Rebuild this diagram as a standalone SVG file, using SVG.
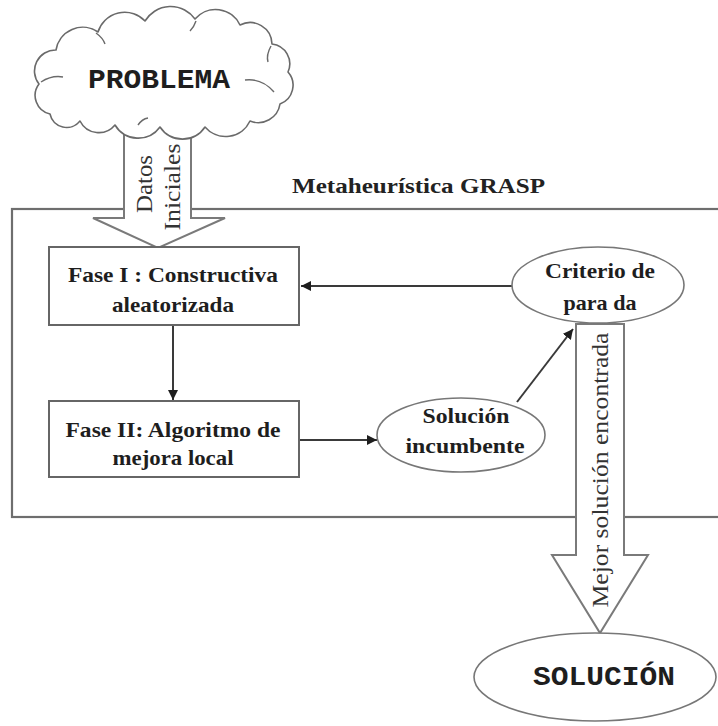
<svg xmlns="http://www.w3.org/2000/svg" width="718" height="726" viewBox="0 0 718 726">
<defs>
<style>
.frame{fill:#fff;stroke:#6e6e6e;stroke-width:2.2}
.box{fill:#fff;stroke:#666;stroke-width:2}
.ell{fill:#fff;stroke:#777;stroke-width:1.6}
.big{fill:#fff;stroke:#7a7a7a;stroke-width:2}
.cloud{fill:#fff;stroke:#6a6a6a;stroke-width:1.6;stroke-linejoin:round}
.hook{fill:none;stroke:#6a6a6a;stroke-width:1.4}
.conn{fill:none;stroke:#3a3a3a;stroke-width:2}
.nt{font-family:"Liberation Serif","Times New Roman",serif;font-weight:bold;font-size:22px;fill:#1e1e1e;text-anchor:middle}
.mono{font-family:"Liberation Mono","Courier New",monospace;font-weight:bold;font-size:27px;fill:#1e1e1e;text-anchor:middle}
.lbl{font-family:"Liberation Serif","Times New Roman",serif;font-size:23px;fill:#333;text-anchor:middle}
.title{font-family:"Liberation Serif","Times New Roman",serif;font-weight:bold;font-size:22px;fill:#222}
</style>
<marker id="ah" viewBox="0 0 10 10" refX="10" refY="5" markerWidth="5" markerHeight="5" orient="auto" markerUnits="strokeWidth">
<path d="M0,0 L10,5 L0,10 z" fill="#1e1e1e"/>
</marker>
</defs>
<rect width="718" height="726" fill="#fff"/>

<g id="grasp-frame">
<rect class="frame" x="12" y="209" width="730" height="308"/>
<text class="title" x="292" y="193" textLength="253" lengthAdjust="spacingAndGlyphs">Metaheurística GRASP</text>
</g>

<g id="datos-iniciales">
<polygon class="big" points="124,120 124,218 93,218 158,248 225,218 191,218 191,120"/>
<text class="lbl" transform="translate(152,184) rotate(-90)" textLength="58" lengthAdjust="spacingAndGlyphs">Datos</text>
<text class="lbl" transform="translate(180,187) rotate(-90)" textLength="87" lengthAdjust="spacingAndGlyphs">Iniciales</text>
</g>

<g id="problema">
<path class="cloud" d="M50,114 A19,19 0 0 1 39,84 A21,21 0 0 1 56,50 A27,27 0 0 1 98,32 A28,28 0 0 1 145,21 A30,30 0 0 1 195,19 A27,27 0 0 1 240,25 A22,22 0 0 1 272,44 A20,20 0 0 1 288,72 A20,20 0 0 1 280,104 A22,22 0 0 1 250,121 A27,27 0 0 1 205,127 A27,27 0 0 1 160,127 A27,27 0 0 1 115,125 A21,21 0 0 1 80,121 A17,17 0 0 1 50,114 Z"/>
<path class="hook" d="M41,82 Q52,75 63,77"/>
<path class="hook" d="M96,33 Q103,38 105,44"/>
<path class="hook" d="M196,21 Q194,27 190,31"/>
<path class="hook" d="M271,46 Q266,55 268,62"/>
<path class="hook" d="M245,80 Q262,78 274,92"/>
<path class="hook" d="M138,125 Q142,119 148,118"/>
<text class="mono" x="159" y="88" textLength="142" lengthAdjust="spacingAndGlyphs">PROBLEMA</text>
</g>

<g id="mejor-solucion">
<polygon class="big" points="576,324 576,555 552,555 600,633 648,555 624,555 624,324"/>
<text class="lbl" transform="translate(608,470) rotate(-90)" textLength="275" lengthAdjust="spacingAndGlyphs">Mejor solución encontrada</text>
</g>

<g id="connectors">
<line class="conn" x1="512" y1="286" x2="301" y2="286" marker-end="url(#ah)"/>
<line class="conn" x1="173" y1="325" x2="173" y2="400" marker-end="url(#ah)"/>
<line class="conn" x1="299" y1="440" x2="377" y2="440" marker-end="url(#ah)"/>
<line class="conn" x1="517" y1="402" x2="573" y2="329" marker-end="url(#ah)"/>
</g>

<g id="fase1">
<rect class="box" x="49" y="247" width="250" height="78"/>
<text class="nt" x="173" y="282" textLength="210" lengthAdjust="spacingAndGlyphs">Fase I : Constructiva</text>
<text class="nt" x="173" y="312" textLength="122" lengthAdjust="spacingAndGlyphs">aleatorizada</text>
</g>

<g id="fase2">
<rect class="box" x="49" y="401" width="250" height="76"/>
<text class="nt" x="173" y="437" textLength="215" lengthAdjust="spacingAndGlyphs">Fase II: Algoritmo de</text>
<text class="nt" x="173" y="465" textLength="121" lengthAdjust="spacingAndGlyphs">mejora local</text>
</g>

<g id="solucion-incumbente">
<ellipse class="ell" cx="461" cy="435" rx="84" ry="37"/>
<text class="nt" x="466" y="423" textLength="87" lengthAdjust="spacingAndGlyphs">Solución</text>
<text class="nt" x="465" y="453" textLength="119" lengthAdjust="spacingAndGlyphs">incumbente</text>
</g>

<g id="criterio-parada">
<ellipse class="ell" cx="598" cy="285" rx="86" ry="38"/>
<text class="nt" x="600" y="278" textLength="110" lengthAdjust="spacingAndGlyphs">Criterio de</text>
<text class="nt" x="600" y="310" textLength="73" lengthAdjust="spacingAndGlyphs">para da</text>
</g>

<g id="solucion">
<ellipse class="ell" cx="595" cy="677" rx="121" ry="44"/>
<text class="mono" x="604" y="685" textLength="142" lengthAdjust="spacingAndGlyphs">SOLUCIÓN</text>
</g>
</svg>
